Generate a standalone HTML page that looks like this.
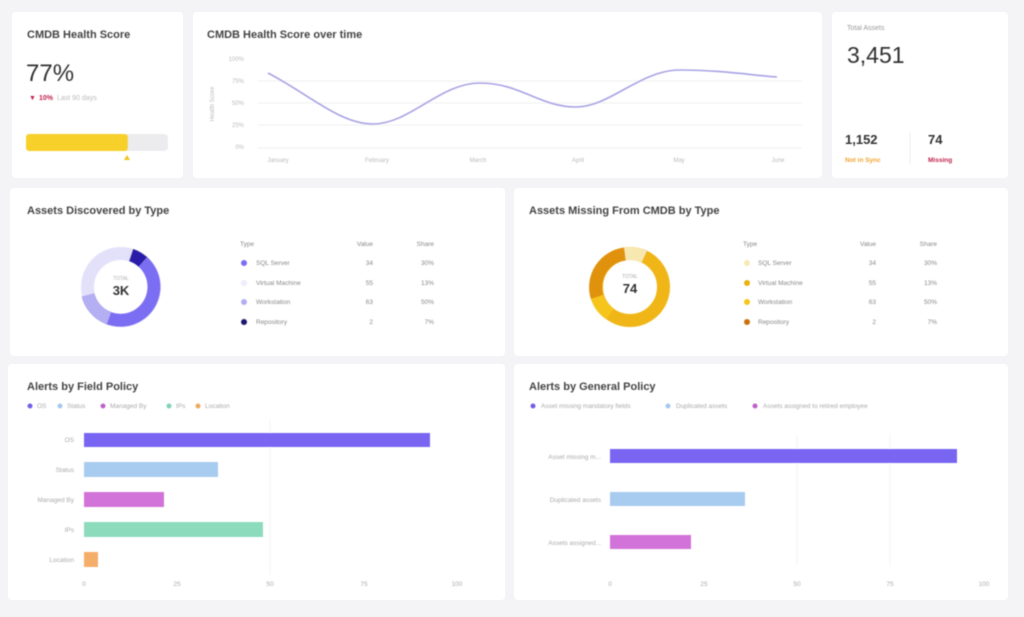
<!DOCTYPE html>
<html><head><meta charset="utf-8"><style>
body{margin:0;width:1024px;height:617px;background:#f4f4f6;font-family:"Liberation Sans",sans-serif;overflow:hidden}
svg{display:block}
</style></head><body>
<svg width="1024" height="617" viewBox="0 0 1024 617" font-family="Liberation Sans, sans-serif">
<defs><filter id="b"><feGaussianBlur stdDeviation="0.4"/></filter></defs>
<g fill="#fff">
<rect x="12" y="12" width="171" height="166" rx="4"/>
<rect x="193" y="12" width="629" height="166" rx="4"/>
<rect x="832" y="12" width="176" height="166" rx="4"/>
<rect x="10" y="188" width="495" height="168" rx="4"/>
<rect x="514" y="188" width="494" height="168" rx="4"/>
<rect x="8" y="364" width="497" height="236" rx="4"/>
<rect x="514" y="364" width="494" height="236" rx="4"/>
</g>
<g filter="url(#b)">
<!-- card 1 -->
<text x="27" y="38" font-size="11" font-weight="bold" fill="#444">CMDB Health Score</text>
<text x="26" y="81" font-size="24" fill="#333">77%</text>
<text x="29" y="100" font-size="7" fill="#c0234d">▼</text>
<text x="39" y="100" font-size="7" fill="#c0234d" font-weight="bold">10%</text>
<text x="57" y="100" font-size="7" fill="#bbb">Last 90 days</text>
<rect x="26" y="134" width="142" height="17" rx="4" fill="#ececee"/>
<rect x="26" y="134" width="102" height="17" rx="3" fill="#f7d02c"/>
<polygon points="124,160 127,155 130,160" fill="#f2c21b"/>
<!-- card 2 -->
<text x="207" y="38" font-size="11" font-weight="bold" fill="#444">CMDB Health Score over time</text>
<g stroke="#f0f0f2" stroke-width="1">
<line x1="258" y1="81" x2="802" y2="81"/><line x1="258" y1="103" x2="802" y2="103"/>
<line x1="258" y1="125" x2="802" y2="125"/><line x1="258" y1="148" x2="802" y2="148"/></g>
<g font-size="6" fill="#bbb" text-anchor="end">
<text x="244" y="61">100%</text><text x="244" y="83">75%</text><text x="244" y="105">50%</text><text x="244" y="127">25%</text><text x="244" y="149">0%</text></g>
<text transform="translate(214,104) rotate(-90)" font-size="6" fill="#bbb" text-anchor="middle">Health Score</text>
<g font-size="6" fill="#bbb" text-anchor="middle">
<text x="278" y="162">January</text><text x="377" y="162">February</text><text x="478" y="162">March</text><text x="578" y="162">April</text><text x="679" y="162">May</text><text x="778" y="162">June</text></g>
<path d="M268,73 C310,95 340,124 373,124 C410,124 440,83 480,83 C520,83 540,107 576,107 C610,107 640,70 680,70 C720,70 750,75 777,77" fill="none" stroke="#a9a3e4" stroke-width="1.6"/>
<!-- card 3 -->
<text x="847" y="30" font-size="7" fill="#999">Total Assets</text>
<text x="847" y="63" font-size="23" fill="#333">3,451</text>
<text x="845" y="144" font-size="13" font-weight="bold" fill="#333">1,152</text>
<text x="845" y="162" font-size="6.5" fill="#f0a430" font-weight="bold">Not in Sync</text>
<line x1="910" y1="132" x2="910" y2="165" stroke="#eee"/>
<text x="928" y="144" font-size="13" font-weight="bold" fill="#333">74</text>
<text x="928" y="162" font-size="6.5" fill="#c0234d" font-weight="bold">Missing</text>
<!-- donut 1 -->
<text x="27" y="214" font-size="11" font-weight="bold" fill="#444">Assets Discovered by Type</text>
<g transform="translate(121,287)" fill="none" stroke-width="13">
<circle r="33.5" stroke="#e3e1fa"/>
<path d="M10,-32 A33.5,33.5 0 0 1 22,-25" stroke="#2c1fa8"/>
<path d="M22,-25 A33.5,33.5 0 1 1 -33,8" stroke="#7b6ef2" transform="rotate(0)"/>
<path d="M-12,31 A33.5,33.5 0 0 1 -33,8" stroke="#b4aef2"/>
</g>
<text x="121" y="280" font-size="5" fill="#aaa" text-anchor="middle">TOTAL</text>
<text x="121" y="295" font-size="13" font-weight="bold" fill="#333" text-anchor="middle">3K</text>
<g font-size="6.5" fill="#888">
<text x="240" y="246">Type</text><text x="373" y="246" text-anchor="end">Value</text><text x="434" y="246" text-anchor="end">Share</text>
<circle cx="244" cy="263" r="3" fill="#7b6ef2"/><text x="256" y="265">SQL Server</text><text x="373" y="265" text-anchor="end">34</text><text x="434" y="265" text-anchor="end">30%</text>
<circle cx="244" cy="283" r="3" fill="#eeedfb"/><text x="256" y="285">Virtual Machine</text><text x="373" y="285" text-anchor="end">55</text><text x="434" y="285" text-anchor="end">13%</text>
<circle cx="244" cy="302" r="3" fill="#b4aef2"/><text x="256" y="304">Workstation</text><text x="373" y="304" text-anchor="end">63</text><text x="434" y="304" text-anchor="end">50%</text>
<circle cx="244" cy="322" r="3" fill="#1d1470"/><text x="256" y="324">Repository</text><text x="373" y="324" text-anchor="end">2</text><text x="434" y="324" text-anchor="end">7%</text>
</g>
<!-- donut 2 -->
<text x="529" y="214" font-size="11" font-weight="bold" fill="#444">Assets Missing From CMDB by Type</text>
<g transform="translate(630,287)" fill="none" stroke-width="13">
<circle r="33.5" stroke="#f0b512"/>
<path d="M-5,-33 A33.5,33.5 0 0 0 -33,10" stroke="#e19209"/>
<path d="M-5,-33 A33.5,33.5 0 0 1 14,-30" stroke="#f7e8b0"/>
<path d="M-33,10 A33.5,33.5 0 0 0 -20,27" stroke="#f6c51c"/>
</g>
<text x="630" y="278" font-size="5" fill="#aaa" text-anchor="middle">TOTAL</text>
<text x="630" y="293" font-size="13" font-weight="bold" fill="#333" text-anchor="middle">74</text>
<g font-size="6.5" fill="#888">
<text x="743" y="246">Type</text><text x="876" y="246" text-anchor="end">Value</text><text x="937" y="246" text-anchor="end">Share</text>
<circle cx="747" cy="263" r="3" fill="#f7eab5"/><text x="758" y="265">SQL Server</text><text x="876" y="265" text-anchor="end">34</text><text x="937" y="265" text-anchor="end">30%</text>
<circle cx="747" cy="283" r="3" fill="#e8b10c"/><text x="758" y="285">Virtual Machine</text><text x="876" y="285" text-anchor="end">55</text><text x="937" y="285" text-anchor="end">13%</text>
<circle cx="747" cy="302" r="3" fill="#f6c51c"/><text x="758" y="304">Workstation</text><text x="876" y="304" text-anchor="end">63</text><text x="937" y="304" text-anchor="end">50%</text>
<circle cx="747" cy="322" r="3" fill="#c9720f"/><text x="758" y="324">Repository</text><text x="876" y="324" text-anchor="end">2</text><text x="937" y="324" text-anchor="end">7%</text>
</g>
<!-- bar chart 1 -->
<text x="27" y="390" font-size="11" font-weight="bold" fill="#444">Alerts by Field Policy</text>
<g font-size="6.5" fill="#aaa">
<circle cx="30" cy="406" r="2.5" fill="#6f5fe8"/><text x="37" y="408">OS</text>
<circle cx="60" cy="406" r="2.5" fill="#a6c8ee"/><text x="67" y="408">Status</text>
<circle cx="103" cy="406" r="2.5" fill="#c060c8"/><text x="110" y="408">Managed By</text>
<circle cx="169" cy="406" r="2.5" fill="#7ed4b4"/><text x="176" y="408">IPs</text>
<circle cx="198" cy="406" r="2.5" fill="#f0a860"/><text x="205" y="408">Location</text>
</g>
<line x1="270" y1="420" x2="270" y2="575" stroke="#f3f3f5"/>
<rect x="84" y="433" width="346" height="14" fill="#7865f2"/>
<rect x="84" y="462" width="134" height="15" fill="#a8cbf0"/>
<rect x="84" y="492" width="80" height="15" fill="#d173d8"/>
<rect x="84" y="522" width="179" height="15" fill="#8ddbbd"/>
<rect x="84" y="552" width="14" height="15" fill="#f5ad6a"/>
<g font-size="6.5" fill="#aaa" text-anchor="end">
<text x="74" y="442">OS</text><text x="74" y="472">Status</text><text x="74" y="502">Managed By</text><text x="74" y="532">IPs</text><text x="74" y="562">Location</text></g>
<g font-size="6.5" fill="#aaa" text-anchor="middle">
<text x="84" y="586">0</text><text x="177" y="586">25</text><text x="270" y="586">50</text><text x="364" y="586">75</text><text x="457" y="586">100</text></g>
<!-- bar chart 2 -->
<text x="529" y="390" font-size="11" font-weight="bold" fill="#444">Alerts by General Policy</text>
<g font-size="6.5" fill="#aaa">
<circle cx="533" cy="406" r="2.5" fill="#6f5fe8"/><text x="541" y="408">Asset missing mandatory fields</text>
<circle cx="668" cy="406" r="2.5" fill="#a6c8ee"/><text x="676" y="408">Duplicated assets</text>
<circle cx="755" cy="406" r="2.5" fill="#c060c8"/><text x="763" y="408">Assets assigned to retired employee</text>
</g>
<line x1="797" y1="435" x2="797" y2="565" stroke="#f3f3f5"/><line x1="890" y1="435" x2="890" y2="565" stroke="#f3f3f5"/>
<rect x="610" y="449" width="347" height="14" fill="#7865f2"/>
<rect x="610" y="492" width="135" height="14" fill="#a8cbf0"/>
<rect x="610" y="535" width="81" height="14" fill="#d173d8"/>
<g font-size="6.5" fill="#aaa" text-anchor="end">
<text x="601" y="459">Asset missing m...</text><text x="601" y="502">Duplicated assets</text><text x="601" y="545">Assets assigned...</text></g>
<g font-size="6.5" fill="#aaa" text-anchor="middle">
<text x="610" y="586">0</text><text x="704" y="586">25</text><text x="797" y="586">50</text><text x="890" y="586">75</text><text x="984" y="586">100</text></g>
</g>
</svg>
</body></html>
